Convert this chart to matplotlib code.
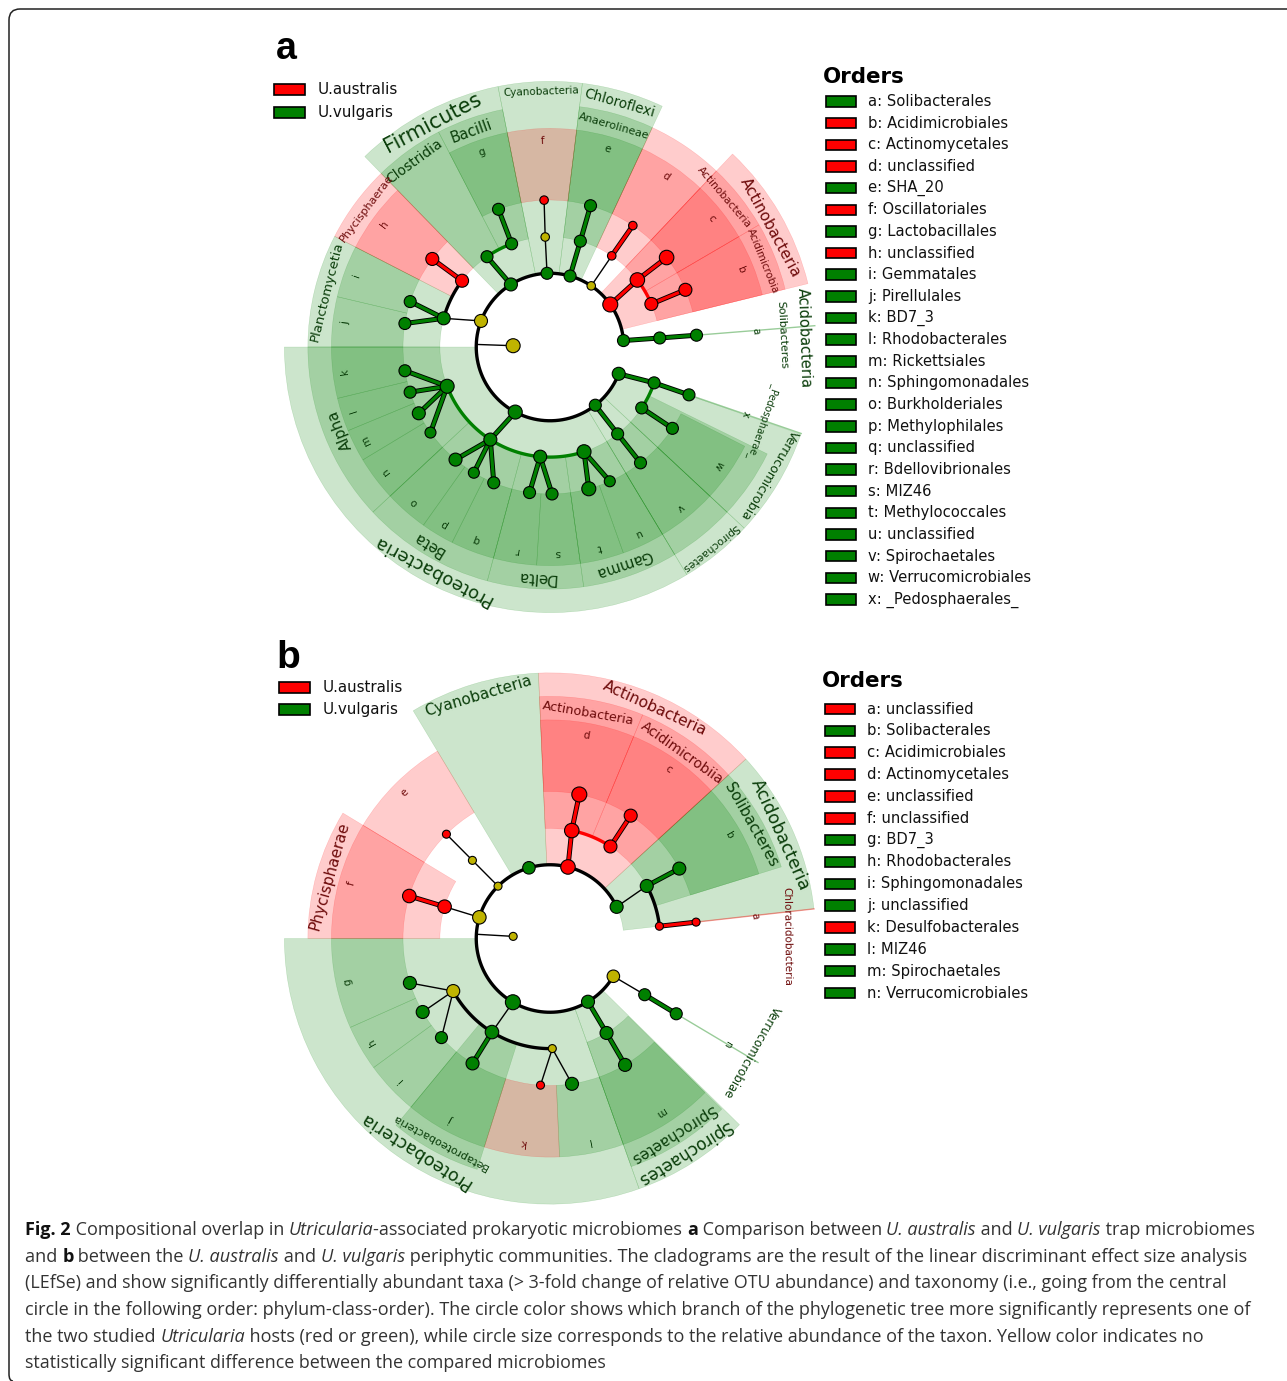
#!/usr/bin/env python3
import numpy as np
import matplotlib
matplotlib.use("Agg")
import matplotlib.pyplot as plt
from matplotlib.patches import PathPatch, Rectangle
from matplotlib.path import Path

# cladogram a: (start deg, end deg, host)
a_phyla = [(101.3, 134.2, "G"), (83, 101.3, "G"), (65, 83, "G"), (13.8, 46.6, "R"),
           (180, 301, "G"), (301, 317, "G"), (317, 340.8, "G")]
a_classes = [(117.4, 134.2, "G"), (101.3, 117.4, "G"), (65, 83, "G"), (46.6, 65, "R"),
             (30.3, 46.6, "R"), (13.8, 30.3, "R"), (134.2, 152.8, "R"), (152.8, 180, "G"),
             (180, 223, "G"), (223, 255, "G"), (255, 278, "G"), (278, 301, "G"),
             (301, 317, "G"), (317, 333.8, "G")]
a_letters = list("abcdefghijklmnopqrstuvwx")
a_order_start = [4.6, 13.8, 30.3, 46.6, 65, 83, 101.3, 134.2, 152.8, 166.7, 180, 193.6,
                 202.5, 211.1, 223, 234.6, 243.4, 255, 266.5, 278, 289.6, 301, 317, 341]
a_order_end = [4.6, 30.3, 46.6, 65, 83, 101.3, 117.4, 152.8, 166.7, 180, 193.6, 202.5,
               211.1, 223, 234.6, 243.4, 255, 266.5, 278, 289.6, 301, 317, 333, 341]
a_order_host = list("GRRRGRGRGGGGGGGGGGGGGGGG")
a_order_names = ["Solibacterales", "Acidimicrobiales", "Actinomycetales", "unclassified", "SHA_20",
                 "Oscillatoriales", "Lactobacillales", "unclassified", "Gemmatales", "Pirellulales",
                 "BD7_3", "Rhodobacterales", "Rickettsiales", "Sphingomonadales", "Burkholderiales",
                 "Methylophilales", "unclassified", "Bdellovibrionales", "MIZ46", "Methylococcales",
                 "unclassified", "Spirochaetales", "Verrucomicrobiales", "_Pedosphaerales_"]
a_labels = [("Firmicutes", 117.7, 237, 15, "G"), ("Cyanobacteria", 92, 239, 7.5, "G"),
            ("Chloroflexi", 74, 237, 9.8, "G"), ("Actinobacteria", 28.5, 235, 11, "R"),
            ("Acidobacteria", 2, 237.6, 10.5, "G"), ("Proteobacteria", 242.2, 236, 13, "G"),
            ("Spirochaetes", 308.7, 240, 7.7, "G"), ("Verrucomicrobia", 329.7, 237.6, 9, "G"),
            ("Clostridia", 126, 215, 10, "G"), ("Bacilli", 110, 215, 10.5, "G"),
            ("Anaerolineae", 74, 215, 7.9, "G"), ("Actinobacteria", 40.6, 215, 7.6, "R"),
            ("Acidimicrobia", 22, 215, 7.4, "R"), ("Solibacteres", 3, 217, 7.9, "G"),
            ("Phycisphaerae", 143, 215, 8, "R"), ("Planctomycetia", 166, 215, 9.5, "G"),
            ("Alpha", 201.6, 211, 10.7, "G"), ("Beta", 238.4, 216, 10.7, "G"),
            ("Delta", 266.5, 216, 10.7, "G"), ("Gamma", 288.7, 214, 10.7, "G"),
            ("_Pedosphaerae_", 341, 211.6, 7, "G")]
a_theta = [178, 159.3, 164.9, 162, 170.8, 143, 143.2, 124.9, 122, 110.4, 110.5, 92.3, 92.5, 92.3,
           74.2, 74, 74, 56, 55.9, 55.7, 35.2, 37.5, 37.5, 23, 22.9, 5, 4.7, 4.6,
           200.9, 189.3, 197.9, 206.8, 215.6, 237.2, 241.9, 230, 238.8, 247.5, 264.9, 262, 270.8,
           288, 285.3, 294, 307.9, 307.9, 308, 338.7, 341, 341, 326.4, 326.4]
a_level = [0, 1, 2, 3, 3, 2, 3, 2, 1, 2, 3, 1, 2, 3, 1, 2, 3, 1, 2, 3, 1, 2, 3, 2, 3, 1, 2, 3,
           2, 3, 3, 3, 3, 2, 1, 3, 3, 3, 2, 3, 3, 2, 3, 3, 1, 2, 3, 1, 2, 3, 2, 3]
a_host = list("YYGGGRRGGGGGYRGGGYRRRRRRRGGG") + ["G"] * 24
a_size = [14, 13, 13, 12, 12, 13, 13, 12, 13, 12, 12, 12, 8.5, 8.5, 12, 12, 12, 8.5, 8.5, 8.5, 15, 14.5, 14.5,
          13, 13, 12, 12, 12, 14, 12, 12, 13, 11, 13, 14, 13, 11, 12, 13, 12, 12, 14, 14, 11,
          12, 12, 12, 13, 12, 12, 12, 12]
a_thin = [(1, 2), (11, 12), (12, 13), (17, 18)]
a_thick = [(2, 3), (2, 4), (5, 6), (8, 7), (9, 10), (14, 15), (15, 16), (18, 19), (20, 21), (21, 22),
           (23, 24), (25, 26), (26, 27), (28, 29), (28, 30), (28, 31), (28, 32), (34, 33), (33, 35),
           (33, 36), (33, 37), (38, 39), (38, 40), (41, 42), (41, 43), (44, 45), (45, 46),
           (47, 48), (48, 49), (50, 51)]
# arcs: (node, node, colour), along the ring of the first node
a_arcs = [(25, 47, "k"), (2, 5, "k"), (9, 7, "G"), (23, 21, "R"), (28, 41, "G"), (50, 48, "G")]

# cladogram b
b_phyla = [(6.4, 42.5, "G"), (42.5, 92.5, "R"), (92.5, 121, "G"), (180, 289.6, "G"), (289.6, 315.5, "G")]
b_classes = [(67.5, 92.5, "R"), (42.5, 67.5, "R"), (17.2, 42.5, "G"), (148.8, 180, "R"),
             (230.5, 252.5, "G"), (289.6, 315.2, "G")]
b_letters = list("abcdefghijklmn")
b_order_start = [6.4, 17.2, 42.5, 67.5, 121, 148.8, 180, 204, 216.2, 230.5, 252.5, 272.5, 289.6, 329.2]
b_order_end = [6.4, 42.5, 67.5, 92.5, 148.8, 180, 204, 216.2, 230.5, 252.5, 272.5, 289.6, 315.2, 329.2]
b_order_host = list("RGRRRRGGGGRGGG")
b_order_names = ["unclassified", "Solibacterales", "Acidimicrobiales", "Actinomycetales", "unclassified",
                 "unclassified", "BD7_3", "Rhodobacterales", "Sphingomonadales", "unclassified",
                 "Desulfobacterales", "MIZ46", "Spirochaetales", "Verrucomicrobiales"]
b_labels = [("Cyanobacteria", 106.6, 236.5, 11, "G"), ("Actinobacteria", 65.5, 237, 11.2, "R"),
            ("Actinobacteria", 80.3, 214, 9.2, "R"), ("Acidimicrobiia", 54.6, 213, 10, "R"),
            ("Acidobacteria", 24.3, 236, 12.6, "G"), ("Solibacteres", 29.4, 216, 11, "G"),
            ("Phycisphaerae", 164.3, 214.5, 11, "R"), ("Proteobacteria", 237.5, 235, 12.6, "G"),
            ("Betaproteobacteria", 241.6, 216.5, 8, "G"), ("Spirochaetes", 302.2, 216, 10.7, "G"),
            ("Spirochaetes", 301.9, 237, 12, "G"), ("Verrucomicrobiae", 330.6, 216.3, 8.5, "G"),
            ("Chloracidobacteria", 0.6, 222, 7.5, "R")]
b_theta = [176.7, 163.3, 163.2, 163.2, 134.8, 134.8, 134.8, 106.6, 75.9, 78.6, 78.5, 56.7, 56.7,
           25.4, 28.5, 28.4, 6.4, 6.4, 208.5, 197.6, 210, 222.4, 239.8, 238.2, 238.2, 271.2,
           266.3, 278.6, 301, 300.9, 300.7, 329.2, 329.3, 329.2]
b_level = [0, 1, 2, 3, 1, 2, 3, 1, 1, 2, 3, 2, 3, 1, 2, 3, 2, 3, 2, 3, 3, 3, 1, 2, 3, 2, 3, 3, 1, 2, 3, 1, 2, 3]
b_host = list("YYRRYYRGRRRRRGGGRRYGGGGGGYRGGGGYGG")
b_size = [8, 13.5, 13.5, 13.5, 8, 8, 8, 12.5, 14.5, 14.5, 15, 13, 13, 13, 13, 13, 8, 8,
          13, 13, 13, 12, 15, 13.5, 13, 8, 8, 13, 13, 13, 13, 12.5, 12, 12]
b_thin = [(1, 2), (4, 5), (5, 6), (13, 14), (18, 19), (18, 20), (18, 21), (22, 23), (25, 26), (25, 27), (31, 32)]
b_thick = [(2, 3), (8, 9), (9, 10), (11, 12), (14, 15), (16, 17), (23, 24), (28, 29), (29, 30), (32, 33)]
b_arcs = [(13, 31, "k"), (11, 9, "R"), (16, 14, "k"), (18, 25, "k")]

# caption: (text, style)
caption = [
    [("Fig. 2", "b"), (" Compositional overlap in ", "n"), ("Utricularia", "i"),
     ("-associated prokaryotic microbiomes ", "n"), ("a", "b"), (" Comparison between ", "n"),
     ("U. australis", "i"), (" and ", "n"), ("U. vulgaris", "i"), (" trap microbiomes", "n")],
    [("and ", "n"), ("b", "b"), (" between the ", "n"), ("U. australis", "i"), (" and ", "n"),
     ("U. vulgaris", "i"),
     (" periphytic communities. The cladograms are the result of the linear discriminant effect size analysis", "n")],
    [("(LEfSe) and show significantly differentially abundant taxa (> 3-fold change of relative OTU abundance) and taxonomy (i.e., going from the central", "n")],
    [("circle in the following order: phylum-class-order). The circle color shows which branch of the phylogenetic tree more significantly represents one of", "n")],
    [("the two studied ", "n"), ("Utricularia", "i"),
     (" hosts (red or green), while circle size corresponds to the relative abundance of the taxon. Yellow color indicates no", "n")],
    [("statistically significant difference between the compared microbiomes", "n")],
]
caption_right = [1254, 1246, 1233, 1251, 1204, 607]

W, H = 1287, 1381
COL = {"R": "#ff0000", "G": "#008000", "Y": "#bfb300", "k": "black"}
TXT = {"R": "#6e0b0b", "G": "#0a3d0a"}
RADII = [34.5, 69, 103, 137.5]
SCALE = 1.069  # px per radial unit
RMAX = 260
CAPTION_FONT = "Open Sans"

fig = plt.figure(figsize=(W / 100, H / 100), dpi=100, facecolor="white")
bg = fig.add_axes([0, 0, 1, 1])
bg.set_xlim(0, W)
bg.set_ylim(H, 0)
bg.axis("off")


def wedge(ax, lo, hi, bottom, top, host):
    ax.bar(np.radians((lo + hi) / 2), top - bottom, width=np.radians(hi - lo), bottom=bottom,
           color=COL[host], alpha=0.2, edgecolor=COL[host], linewidth=0.35, align="center")


def cladogram(cx, cy, phyla, classes, ostart, oend, ohost, letters, labels,
              theta, level, host, size, thin, thick, arcs, thin_end):
    side = RMAX * SCALE
    ax = fig.add_axes([(cx - side) / W, 1 - (cy + side) / H, 2 * side / W, 2 * side / H], projection="polar")
    ax.set_axis_off()
    ax.set_ylim(0, RMAX)
    th = np.radians(theta)
    r = np.array([RADII[l] for l in level])
    for lo, hi, c in phyla:
        wedge(ax, lo, hi, 69, 248.5, c)
    for lo, hi, c in classes:
        wedge(ax, lo, hi, 103, 226.5, c)
    for lo, hi, c, let, end in zip(ostart, oend, ohost, letters, thin_end):
        mid = (lo + hi) / 2
        if hi > lo:
            wedge(ax, lo, hi, 137.5, 204.5, c)
        else:
            ax.plot(np.radians([lo, lo]), [137.5, end], color=COL[c], alpha=0.4, lw=1)
        ax.text(np.radians(mid), 193, let, rotation=mid - 90, rotation_mode="anchor",
                ha="center", va="center", fontsize=7.5, color=TXT[c])
    for s, t, rad, fs, c in labels:
        ax.text(np.radians(t), rad, s, rotation=t - 90, rotation_mode="anchor",
                ha="center", va="center", fontsize=fs, color=TXT[c])
    # arcs and ring
    for i, j, c in arcs:
        t = np.linspace(th[i], th[j], 120)
        ax.plot(t, np.full(120, r[i]), color=COL[c], lw=2.4, zorder=3, solid_capstyle="round")
    # line from the root node out to the ring
    ax.plot([th[0], th[0]], [r[0], RADII[1]], color="k", lw=1, zorder=3)
    for i, j in thin:
        ax.plot(th[[i, j]], r[[i, j]], color="k", lw=1, zorder=3)
    for i, j in thick:
        ax.plot(th[[i, j]], r[[i, j]], color="k", lw=3.6, zorder=4)
        ax.plot(th[[i, j]], r[[i, j]], color=COL[host[j]], lw=2.3, zorder=4.1)
    ax.scatter(th, r, s=(np.array(size) * 0.72) ** 2, c=[COL[h] for h in host],
               edgecolors="k", linewidths=0.8, zorder=5, clip_on=False)
    ax.set_ylim(0, RMAX)
    return ax


cladogram(550, 347, a_phyla, a_classes, a_order_start, a_order_end, a_order_host, a_letters, a_labels,
          a_theta, a_level, a_host, a_size, a_thin, a_thick, a_arcs, [248.5] + [0] * 22 + [248.5])
cladogram(550, 938.5, b_phyla, b_classes, b_order_start, b_order_end, b_order_host, b_letters, b_labels,
          b_theta, b_level, b_host, b_size, b_thin, b_thick, b_arcs, [248.5] + [0] * 12 + [226.5])


def swatch(x, y, w, h, host):
    bg.add_patch(Rectangle((x, y - h / 2), w, h, fc=COL[host], ec="k", lw=1.2))


def legend(x, ys, hosts, names):
    for y, h, n in zip(ys, hosts, names):
        swatch(x, y, 30, 10.5, h)
        bg.text(x + 42.3, y, n, fontsize=10.6, va="center", color="#111111")


def host_legend(x, y0, y1):
    swatch(x, y0, 31, 11, "R")
    swatch(x, y1, 31, 11, "G")
    bg.text(x + 44, y0, "U.australis", fontsize=10.9, va="center", color="#111111")
    bg.text(x + 44, y1, "U.vulgaris", fontsize=10.9, va="center", color="#111111")


host_legend(274, 89, 112)
host_legend(279, 687, 709)
legend(825.5, 101.5 + 21.65 * np.arange(24), a_order_host,
       [f"{l}: {n}" for l, n in zip(a_letters, a_order_names)])
legend(824.5, 709 + 21.85 * np.arange(14), b_order_host,
       [f"{l}: {n}" for l, n in zip(b_letters, b_order_names)])
bg.text(823, 77, "Orders", fontsize=15.4, fontweight="bold", va="center")
bg.text(822, 681, "Orders", fontsize=15.4, fontweight="bold", va="center")
bg.text(276, 59, "a", fontsize=27, fontweight="bold", family="Liberation Sans", va="baseline")
bg.text(276, 668, "b", fontsize=28, fontweight="bold", family="Liberation Sans", va="baseline")

# page frame, open at the right and at the bottom
frame = Path([(W, 9), (20, 9), (9, 9), (9, 20), (9, 1374), (9, 1381), (13, 1381)],
             [Path.MOVETO, Path.LINETO, Path.CURVE3, Path.CURVE3, Path.LINETO, Path.CURVE3, Path.CURVE3])
bg.add_patch(PathPatch(frame, fc="none", ec="#222222", lw=1.1))

renderer = fig.canvas.get_renderer()


def seg_props(style, fs):
    return dict(fontsize=fs, family=CAPTION_FONT, fontweight="bold" if style == "b" else "normal",
                fontstyle="italic" if style == "i" else "normal",
                color="#111111" if style == "b" else "#333333")


def seg_width(s, style, fs):
    # wrap in x so leading and trailing spaces count
    t = bg.text(0, 0, "x" + s + "x", **seg_props(style, fs))
    t2 = bg.text(0, 0, "xx", **seg_props(style, fs))
    w = t.get_window_extent(renderer).width - t2.get_window_extent(renderer).width
    t.remove()
    t2.remove()
    return w


for line, right, y in zip(caption, caption_right, [1230, 1257, 1283, 1310, 1337, 1363]):
    x = 25
    total = sum(seg_width(s, st, 10) for s, st in line)
    fs = 10 * (right - x) / total
    for s, st in line:
        bg.text(x, y, s, va="center", ha="left", **seg_props(st, fs))
        x += seg_width(s, st, fs)

fig.savefig("out.png", dpi=100)
